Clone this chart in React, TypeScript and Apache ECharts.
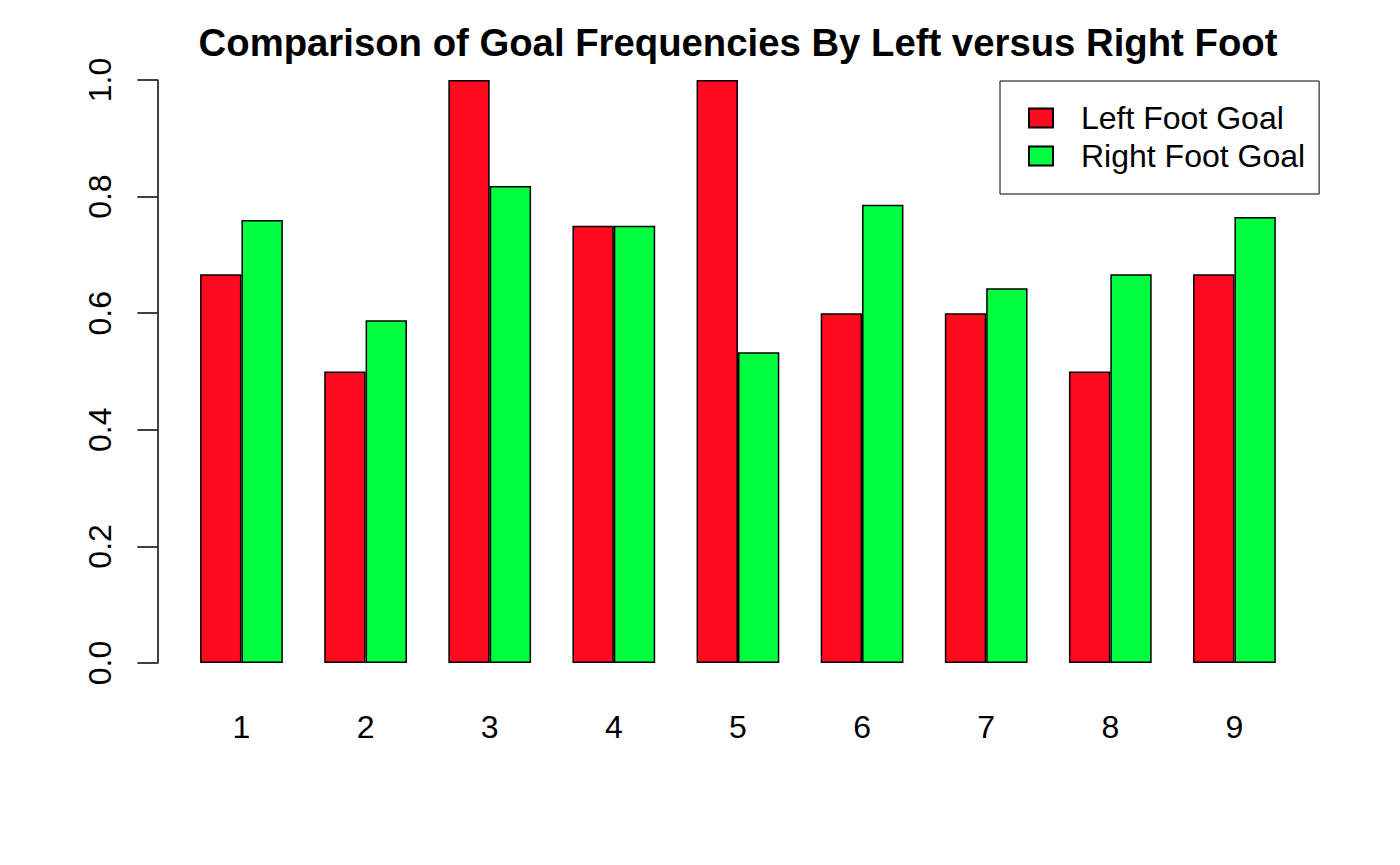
import React, { useEffect, useRef } from "react";
import * as echarts from "echarts";

const categories = ["1", "2", "3", "4", "5", "6", "7", "8", "9"];
const leftFoot = [0.667, 0.5, 1.0, 0.75, 1.0, 0.6, 0.6, 0.5, 0.667];
const rightFoot = [0.76, 0.588, 0.818, 0.75, 0.533, 0.786, 0.643, 0.667, 0.765];
const seriesNames = ["Left Foot Goal", "Right Foot Goal"];
const yTicks = { min: 0, max: 1, interval: 0.2 };

const FONT = "'Liberation Sans', Arial, Helvetica, sans-serif";

export default function App() {
  const ref = useRef<HTMLDivElement>(null);
  useEffect(() => {
    document.body.style.margin = "0";
    if (!ref.current) return;
    const chart = echarts.init(ref.current, null, { renderer: "svg" });
    chart.setOption({
      animation: false,
      backgroundColor: "#ffffff",
      title: {
        text: "Comparison of Goal Frequencies By Left versus Right Foot",
        left: 733,
        textAlign: "center",
        top: 18,
        textStyle: { fontFamily: FONT, fontWeight: "bold", fontSize: 38.3, color: "#000" },
      },
      legend: {
        orient: "vertical",
        left: 1000,
        top: 81,
        padding: [21, 14, 22, 28],
        itemWidth: 24,
        itemHeight: 19,
        itemGap: 6,
        icon: "rect",
        borderColor: "#000",
        borderWidth: 1,
        textStyle: { fontFamily: FONT, fontSize: 32, color: "#000", padding: [0, 0, 0, 23] },
        data: seriesNames,
      },
      grid: { left: 179.4, top: 80, width: 1117.1, height: 583, containLabel: false },
      xAxis: {
        type: "category",
        data: categories,
        axisLine: { show: false },
        axisTick: { show: false },
        axisLabel: { fontFamily: FONT, fontSize: 32, color: "#000", margin: 48 },
      },
      yAxis: {
        type: "value",
        min: yTicks.min,
        max: yTicks.max,
        interval: yTicks.interval,
        offset: 22,
        splitLine: { show: false },
        axisLine: { show: true, lineStyle: { color: "#000", width: 1.5 } },
        axisTick: { show: true, length: 20, lineStyle: { color: "#000", width: 1.5 } },
        axisLabel: {
          rotate: 90,
          fontFamily: FONT,
          fontSize: 32,
          color: "#000",
          margin: 41,
          formatter: (v: number) => v.toFixed(1),
        },
      },
      series: [
        {
          name: seriesNames[0],
          type: "bar",
          data: leftFoot,
          barWidth: "33.333%",
          barGap: "0%",
          itemStyle: { color: "#FF0A1E", borderColor: "#000", borderWidth: 1.5 },
        },
        {
          name: seriesNames[1],
          type: "bar",
          data: rightFoot,
          barWidth: "33.333%",
          barGap: "0%",
          itemStyle: { color: "#00FF40", borderColor: "#000", borderWidth: 1.5 },
        },
      ],
    });
    return () => chart.dispose();
  }, []);
  return <div ref={ref} style={{ width: 1400, height: 865 }} />;
}
